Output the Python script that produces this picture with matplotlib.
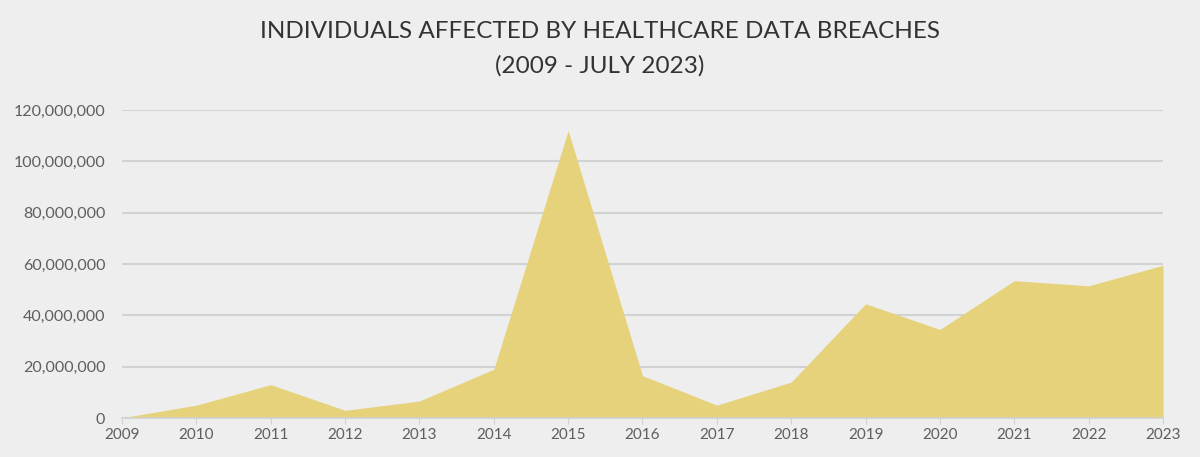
import matplotlib
matplotlib.use("Agg")
import matplotlib.pyplot as plt
from matplotlib.ticker import FuncFormatter

# individuals affected per year
years = [2009, 2010, 2011, 2012, 2013, 2014, 2015, 2016,
         2017, 2018, 2019, 2020, 2021, 2022, 2023]
affected = [0.1e6, 5.0e6, 13.0e6, 3.0e6, 6.6e6, 19.0e6, 112.0e6, 16.5e6,
            5.0e6, 14.0e6, 44.5e6, 34.5e6, 53.5e6, 51.5e6, 59.5e6]
yticks = [0, 20e6, 40e6, 60e6, 80e6, 100e6, 120e6]

title = "INDIVIDUALS AFFECTED BY HEALTHCARE DATA BREACHES\n(2009 - JULY 2023)"

bg = "#eeeeee"
fill_c = "#e6d27b"
text_c = "#5e5e5e"

plt.rcParams["font.family"] = ["Lato", "DejaVu Sans"]

fig = plt.figure(figsize=(12, 4.57), dpi=100, facecolor=bg)
ax = fig.add_axes([122 / 1200, 1 - 418 / 457, (1163 - 122) / 1200, (418 - 110) / 457])
ax.set_facecolor(bg)

ax.fill_between(years, affected, 0, color=fill_c, linewidth=0, zorder=2)

ax.set_xlim(years[0], years[-1])
ax.set_ylim(0, 120e6)
ax.set_yticks(yticks)
ax.set_xticks(years)
ax.yaxis.set_major_formatter(FuncFormatter(lambda v, p: f"{int(v):,}"))

ax.grid(axis="y", color="#d2d2d2", linewidth=1.5, zorder=1)
for s in ["top", "right", "left"]:
    ax.spines[s].set_visible(False)
ax.spines["bottom"].set_color("#d2d2d2")
ax.spines["bottom"].set_linewidth(1.2)

ax.tick_params(axis="y", length=0, pad=12, labelsize=11.5, labelcolor=text_c)
ax.tick_params(axis="x", length=4, color="#d2d2d2", pad=3, labelsize=11, labelcolor=text_c)

fig.text(0.5, 0.955, title, ha="center", va="top", fontsize=17.5, color="#333333",
         linespacing=1.75)

fig.savefig("out.png", dpi=100, facecolor=bg)
